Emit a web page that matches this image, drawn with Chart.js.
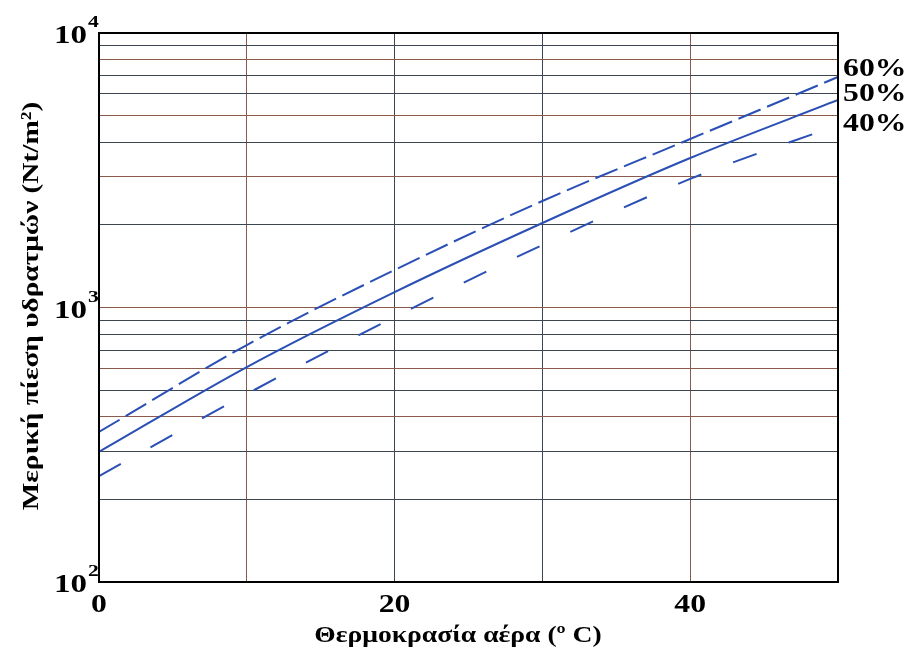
<!DOCTYPE html>
<html>
<head>
<meta charset="utf-8">
<script src="https://cdn.jsdelivr.net/npm/chart.js@4.4.0/dist/chart.umd.min.js"></script>
<style>
  html, body { margin: 0; padding: 0; background: #fff; }
  #wrap { width: 907px; height: 652px; }
</style>
</head>
<body>
<div id="wrap"><canvas id="chart"></canvas></div>
<script>
// Air temperature (°C)
const temps = [0, 10, 20, 30, 40, 50];
// Partial vapour pressure (Nt/m²) per relative humidity
const rh60 = [352, 730, 1370, 2443, 4110, 6915];
const rh50 = [298, 607, 1138, 2032, 3505, 5700];
const rh40 = [243, 484, 923, 1690, 2940, 4620];
const seriesLabels = ['60%', '50%', '40%'];

// Gridline values on the log axis
const yTicks = [100, 200, 300, 400, 500, 600, 700, 800, 900,
                1000, 2000, 3000, 4000, 5000, 6000, 7000, 8000, 9000, 10000];
const yBrownTicks = [400, 600, 1000, 3000, 5000, 8000];
const yLabelTicks = [100, 1000, 10000];
const xLabelTicks = [0, 20, 40];
const xBrownTicks = [10, 40];

const BLUE = '#2a4fb5';
const BROWN = '#8a5a4a';
const DARK = '#3c4650';
const FONT = '"Liberation Serif", "DejaVu Serif", serif';
const STRETCH = 1.27; // the reference text is drawn wide

// text drawn with a horizontal stretch around (x, y)
function wideText(ctx, text, x, y, align, sx) {
    ctx.save();
    ctx.translate(x, y);
    ctx.scale(sx || STRETCH, 1);
    ctx.textAlign = align;
    ctx.fillText(text, 0, 0);
    ctx.restore();
}

// Draws tick labels, axis titles, frame and series labels
const textPlugin = {
    id: 'textPlugin',
    afterDraw(chart) {
        const ctx = chart.ctx;
        const area = chart.chartArea;
        const yScale = chart.scales.y;
        const xScale = chart.scales.x;
        ctx.save();

        // frame
        ctx.strokeStyle = '#000';
        ctx.lineWidth = 2;
        ctx.strokeRect(area.left, area.top, area.right - area.left, area.bottom - area.top);

        ctx.fillStyle = '#000';
        ctx.textBaseline = 'alphabetic';

        // y tick labels 10^n
        yLabelTicks.forEach(v => {
            const y = yScale.getPixelForValue(v);
            const exp = String(Math.round(Math.log10(v)));
            ctx.font = 'bold 26px ' + FONT;
            wideText(ctx, '10', area.left - 12, y + 10, 'right');
            ctx.font = 'bold 17px ' + FONT;
            wideText(ctx, exp, area.left - 11, y - 6, 'left');
        });

        // x tick labels
        ctx.font = 'bold 25px ' + FONT;
        xLabelTicks.forEach(v => {
            wideText(ctx, String(v), xScale.getPixelForValue(v), 612, 'center');
        });

        // x title
        ctx.font = 'bold 23px ' + FONT;
        wideText(ctx, 'Θερμοκρασία αέρα (º C)', 458, 642, 'center', 1.2);

        // y title (rotated, stretched along the text)
        ctx.save();
        ctx.translate(38, 306);
        ctx.rotate(-Math.PI / 2);
        ctx.scale(1.22, 1);
        ctx.font = 'bold 24px ' + FONT;
        ctx.textAlign = 'center';
        ctx.fillText('Μερική πίεση υδρατμών (Nt/m²)', 0, 0);
        ctx.restore();

        // series labels at right end
        ctx.font = 'bold 25px ' + FONT;
        const offsets = [-1, 1, 6];
        chart.data.datasets.forEach((ds, i) => {
            const meta = chart.getDatasetMeta(i);
            const last = meta.data[meta.data.length - 1];
            wideText(ctx, seriesLabels[i], area.right + 5, last.y + offsets[i], 'left');
        });
        ctx.restore();
    }
};

const makePoints = vals => temps.map((t, i) => ({ x: t, y: vals[i] }));

new Chart(document.getElementById('chart'), {
    type: 'line',
    data: {
        datasets: [
            { label: seriesLabels[0], data: makePoints(rh60), borderDash: [24, 7] },
            { label: seriesLabels[1], data: makePoints(rh50), borderDash: [] },
            { label: seriesLabels[2], data: makePoints(rh40), borderDash: [25, 34] }
        ].map(ds => Object.assign(ds, {
            borderColor: BLUE,
            borderWidth: 2,
            pointRadius: 0,
            fill: false,
            cubicInterpolationMode: 'monotone'
        }))
    },
    options: {
        responsive: true,
        maintainAspectRatio: false,
        animation: false,
        layout: { padding: { top: 33, right: 69, left: 0, bottom: 0 } },
        plugins: {
            legend: { display: false },
            tooltip: { enabled: false }
        },
        scales: {
            x: {
                type: 'linear',
                min: 0,
                max: 50,
                ticks: { stepSize: 10, display: false },
                grid: {
                    drawTicks: false,
                    lineWidth: 1,
                    color: ctx => (xBrownTicks.includes(ctx.tick && ctx.tick.value) ? BROWN : DARK)
                },
                border: { color: '#000', width: 2 },
                afterFit: scale => { scale.height = 70; }
            },
            y: {
                type: 'logarithmic',
                min: 100,
                max: 10000,
                afterBuildTicks: scale => {
                    scale.ticks = yTicks.map(v => ({ value: v }));
                },
                ticks: { display: false },
                grid: {
                    drawTicks: false,
                    lineWidth: 1,
                    color: ctx => (yBrownTicks.includes(ctx.tick && ctx.tick.value) ? BROWN : DARK)
                },
                border: { color: '#000', width: 2 },
                afterFit: scale => { scale.width = 99; }
            }
        }
    },
    plugins: [textPlugin]
});
</script>
</body>
</html>
